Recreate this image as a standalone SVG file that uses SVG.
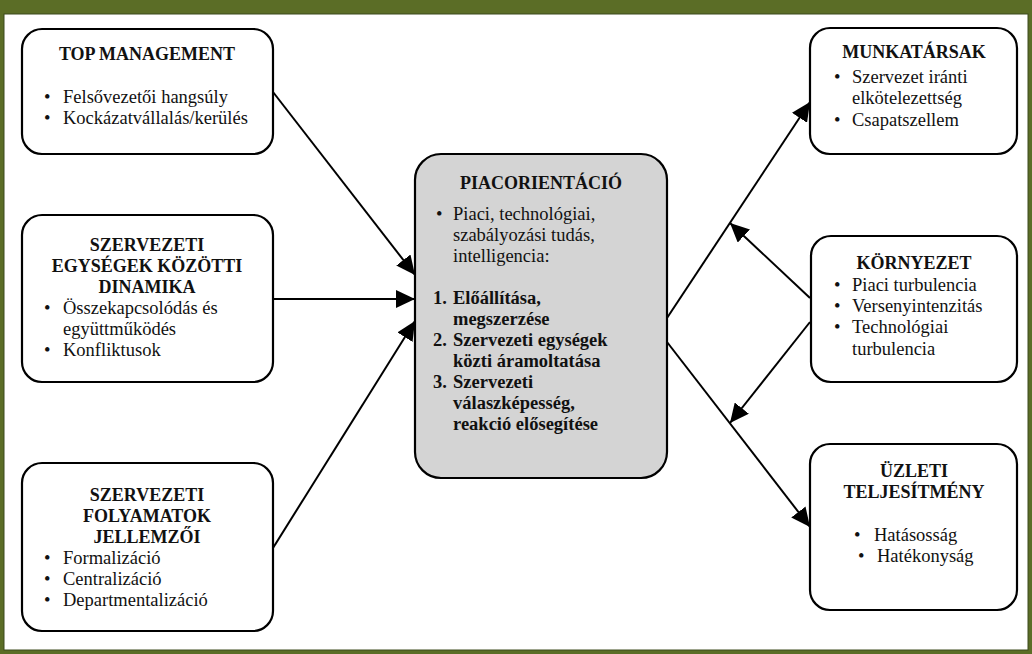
<svg xmlns="http://www.w3.org/2000/svg" width="1032" height="654" viewBox="0 0 1032 654">
<style>
.box{fill:#fff;stroke:#000;stroke-width:2.2}
.core{fill:#d4d4d4;stroke:#000;stroke-width:2.2}
.t{font-family:"Liberation Serif","Times New Roman",serif;font-size:18.5px;fill:#111}
.h{font-family:"Liberation Serif","Times New Roman",serif;font-size:18px;font-weight:bold;fill:#111;text-anchor:middle}
.b{font-family:"Liberation Serif","Times New Roman",serif;font-size:18.5px;font-weight:bold;fill:#111}
.c{stroke:#000;stroke-width:2;fill:none;marker-end:url(#ah)}
</style>
<defs>
<marker id="ah" markerUnits="userSpaceOnUse" markerWidth="19" markerHeight="18" refX="19" refY="9" orient="auto">
<path d="M0,0 L19,9 L0,18 z" fill="#000"/>
</marker>
</defs>
<rect x="0" y="0" width="1032" height="654" fill="#5b6d26"/>
<rect x="4" y="14" width="1024" height="636" fill="#fff" stroke="#3d4a1c" stroke-width="1"/>

<g id="connectors">
<line class="c" x1="273" y1="92" x2="415" y2="275"/>
<line class="c" x1="273" y1="299" x2="415" y2="299"/>
<line class="c" x1="273" y1="548" x2="415" y2="321"/>
<line class="c" x1="667" y1="318" x2="810" y2="102"/>
<line class="c" x1="667" y1="342" x2="810" y2="527"/>
<line class="c" x1="810" y1="298" x2="730" y2="223"/>
<line class="c" x1="810" y1="322" x2="730" y2="423"/>
</g>

<g id="top-management">
<rect class="box" x="22" y="29" width="251" height="125" rx="20"/>
<text class="h" x="147" y="60">TOP MANAGEMENT</text>
<text class="t" x="44" y="103">•</text><text class="t" x="63" y="103">Felsővezetői hangsúly</text>
<text class="t" x="44" y="124">•</text><text class="t" x="63" y="124">Kockázatvállalás/kerülés</text>
</g>

<g id="szervezeti-egysegek">
<rect class="box" x="22" y="215" width="251" height="167" rx="20"/>
<text class="h" x="147" y="251">SZERVEZETI</text>
<text class="h" x="147" y="272">EGYSÉGEK KÖZÖTTI</text>
<text class="h" x="147" y="293">DINAMIKA</text>
<text class="t" x="44" y="314">•</text><text class="t" x="63" y="314">Összekapcsolódás és</text>
<text class="t" x="63" y="335">együttműködés</text>
<text class="t" x="44" y="356">•</text><text class="t" x="63" y="356">Konfliktusok</text>
</g>

<g id="szervezeti-folyamatok">
<rect class="box" x="22" y="463" width="251" height="168" rx="20"/>
<text class="h" x="147" y="501">SZERVEZETI</text>
<text class="h" x="147" y="522">FOLYAMATOK</text>
<text class="h" x="147" y="543">JELLEMZŐI</text>
<text class="t" x="44" y="564">•</text><text class="t" x="63" y="564">Formalizáció</text>
<text class="t" x="44" y="585">•</text><text class="t" x="63" y="585">Centralizáció</text>
<text class="t" x="44" y="606">•</text><text class="t" x="63" y="606">Departmentalizáció</text>
</g>

<g id="piacorientacio">
<rect class="core" x="415" y="154" width="252" height="324" rx="26"/>
<text class="h" x="541" y="189">PIACORIENTÁCIÓ</text>
<text class="t" x="436" y="220">•</text><text class="t" x="453" y="220">Piaci, technológiai,</text>
<text class="t" x="453" y="241">szabályozási tudás,</text>
<text class="t" x="453" y="262">intelligencia:</text>
<text class="b" x="433" y="304">1.</text><text class="b" x="453" y="304">Előállítása,</text>
<text class="b" x="453" y="325">megszerzése</text>
<text class="b" x="433" y="346">2.</text><text class="b" x="453" y="346">Szervezeti egységek</text>
<text class="b" x="453" y="367">közti áramoltatása</text>
<text class="b" x="433" y="388">3.</text><text class="b" x="453" y="388">Szervezeti</text>
<text class="b" x="453" y="409">válaszképesség,</text>
<text class="b" x="453" y="430">reakció elősegítése</text>
</g>

<g id="munkatarsak">
<rect class="box" x="810" y="28" width="207" height="126" rx="20"/>
<text class="h" x="914" y="58">MUNKATÁRSAK</text>
<text class="t" x="834" y="83">•</text><text class="t" x="852" y="83">Szervezet iránti</text>
<text class="t" x="852" y="104">elkötelezettség</text>
<text class="t" x="834" y="126">•</text><text class="t" x="852" y="126">Csapatszellem</text>
</g>

<g id="kornyezet">
<rect class="box" x="811" y="236" width="206" height="146" rx="20"/>
<text class="h" x="914" y="269">KÖRNYEZET</text>
<text class="t" x="834" y="291">•</text><text class="t" x="852" y="291">Piaci turbulencia</text>
<text class="t" x="834" y="312">•</text><text class="t" x="852" y="312">Versenyintenzitás</text>
<text class="t" x="834" y="333">•</text><text class="t" x="852" y="333">Technológiai</text>
<text class="t" x="852" y="355">turbulencia</text>
</g>

<g id="uzleti-teljesitmeny">
<rect class="box" x="810" y="444" width="207" height="166" rx="20"/>
<text class="h" x="914" y="477">ÜZLETI</text>
<text class="h" x="914" y="498">TELJESÍTMÉNY</text>
<text class="t" x="854" y="541">•</text><text class="t" x="874" y="541">Hatásosság</text>
<text class="t" x="858" y="562">•</text><text class="t" x="877" y="562">Hatékonyság</text>
</g>
</svg>
